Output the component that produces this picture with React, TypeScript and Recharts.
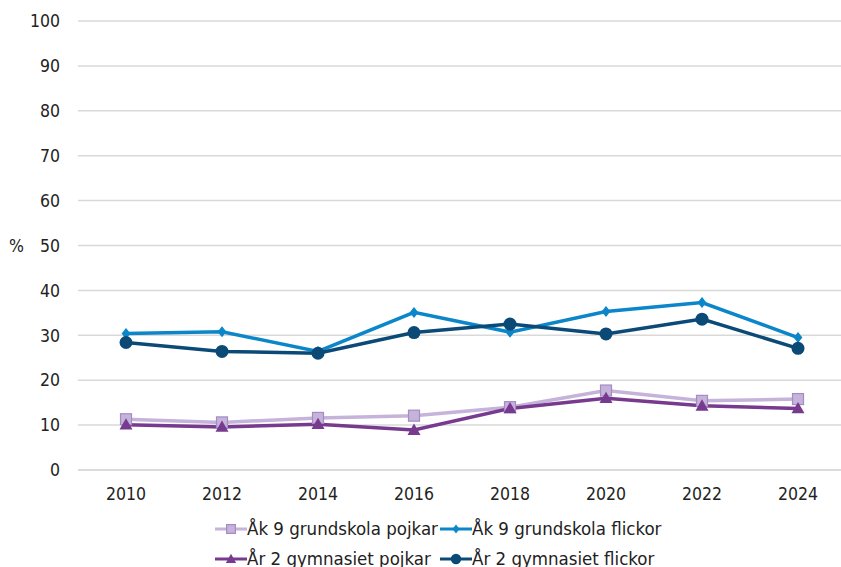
import React from 'react';
import { LineChart, Line, XAxis, YAxis, CartesianGrid } from 'recharts';

const YEARS = ['2010', '2012', '2014', '2016', '2018', '2020', '2022', '2024'];
const AK9_POJKAR = [11.3, 10.6, 11.6, 12.1, 14.0, 17.7, 15.4, 15.8];
const AK9_FLICKOR = [30.4, 30.8, 26.4, 35.1, 30.7, 35.3, 37.3, 29.5];
const AR2_POJKAR = [10.1, 9.6, 10.2, 8.9, 13.7, 16.0, 14.3, 13.7];
const AR2_FLICKOR = [28.4, 26.4, 26.0, 30.6, 32.5, 30.3, 33.6, 27.1];
const Y_TICKS = [0, 10, 20, 30, 40, 50, 60, 70, 80, 90, 100];

const data = YEARS.map((y, i) => ({
  year: y,
  ak9p: AK9_POJKAR[i],
  ak9f: AK9_FLICKOR[i],
  ar2p: AR2_POJKAR[i],
  ar2f: AR2_FLICKOR[i],
}));

const FONT = '"DejaVu Sans Condensed", "DejaVu Sans", sans-serif';

type Shape = 'square' | 'diamond' | 'triangle' | 'circle';

const SERIES: { key: string; name: string; color: string; shape: Shape }[] = [
  { key: 'ak9p', name: 'Åk 9 grundskola pojkar', color: '#c5b3da', shape: 'square' },
  { key: 'ak9f', name: 'Åk 9 grundskola flickor', color: '#0b86c9', shape: 'diamond' },
  { key: 'ar2p', name: 'År 2 gymnasiet pojkar', color: '#773a8f', shape: 'triangle' },
  { key: 'ar2f', name: 'År 2 gymnasiet flickor', color: '#0b4a77', shape: 'circle' },
];

function marker(shape: Shape, cx: number, cy: number, color: string, k: string | number, scale = 1) {
  if (shape === 'square') {
    const s = 5.5 * scale;
    return <rect key={k} x={cx - s} y={cy - s} width={s * 2} height={s * 2} fill="#c5b3da" stroke="#a48bc4" strokeWidth={1.2} />;
  }
  if (shape === 'diamond') {
    const s = 5.5 * scale;
    return <polygon key={k} points={`${cx},${cy - s} ${cx + s * 0.8},${cy} ${cx},${cy + s} ${cx - s * 0.8},${cy}`} fill={color} />;
  }
  if (shape === 'triangle') {
    const s = 6.5 * scale;
    return <polygon key={k} points={`${cx},${cy - s} ${cx + s},${cy + s * 0.75} ${cx - s},${cy + s * 0.75}`} fill={color} />;
  }
  return <circle key={k} cx={cx} cy={cy} r={6.5 * scale} fill={color} />;
}

const dotFor = (shape: Shape, color: string) => (p: any) => marker(shape, p.cx, p.cy, color, p.index);

function LegendBox() {
  return (
    <div
      style={{
        position: 'absolute', left: 215, top: 518,
        display: 'grid', gridTemplateColumns: '225px 280px', rowGap: 8,
        fontFamily: FONT, fontSize: 18.5, lineHeight: '22px', color: '#222',
      }}
    >
      {SERIES.map((s) => (
        <div key={s.key} style={{ display: 'flex', alignItems: 'center', whiteSpace: 'nowrap' }}>
          <svg width={32} height={16}>
            <line x1={0} y1={8} x2={32} y2={8} stroke={s.color} strokeWidth={3} />
            {marker(s.shape, 16, 8, s.color, s.key, 0.8)}
          </svg>
          <span>{s.name}</span>
        </div>
      ))}
    </div>
  );
}

export default function App() {
  return (
    <div style={{ position: 'absolute', left: 0, top: 0, width: 841, height: 567, overflow: 'hidden', background: '#fff' }}>
      <LineChart width={860} height={567} data={data} margin={{ top: 21, right: 14, bottom: 67, left: 0 }}>
        <CartesianGrid vertical={false} stroke="#d9d9d9" strokeWidth={1.5} />
        <XAxis
          dataKey="year"
          padding={{ left: 48, right: 48 }}
          axisLine={{ stroke: '#d9d9d9', strokeWidth: 1.5 }}
          tickLine={false}
          tickMargin={12}
          tick={{ fill: '#222', fontSize: 17.5, fontFamily: FONT }}
        />
        <YAxis
          domain={[0, 100]}
          ticks={Y_TICKS}
          width={78}
          axisLine={false}
          tickLine={false}
          tickMargin={12}
          tick={{ fill: '#222', fontSize: 17.5, fontFamily: FONT }}
          label={{ value: '%', position: 'insideLeft', offset: 9, fill: '#222', fontSize: 17.5, fontFamily: FONT }}
        />
        {SERIES.map((s) => (
          <Line
            key={s.key}
            dataKey={s.key}
            name={s.name}
            stroke={s.color}
            strokeWidth={3.5}
            dot={dotFor(s.shape, s.color)}
            activeDot={false}
            isAnimationActive={false}
          />
        ))}
      </LineChart>
      <LegendBox />
    </div>
  );
}
